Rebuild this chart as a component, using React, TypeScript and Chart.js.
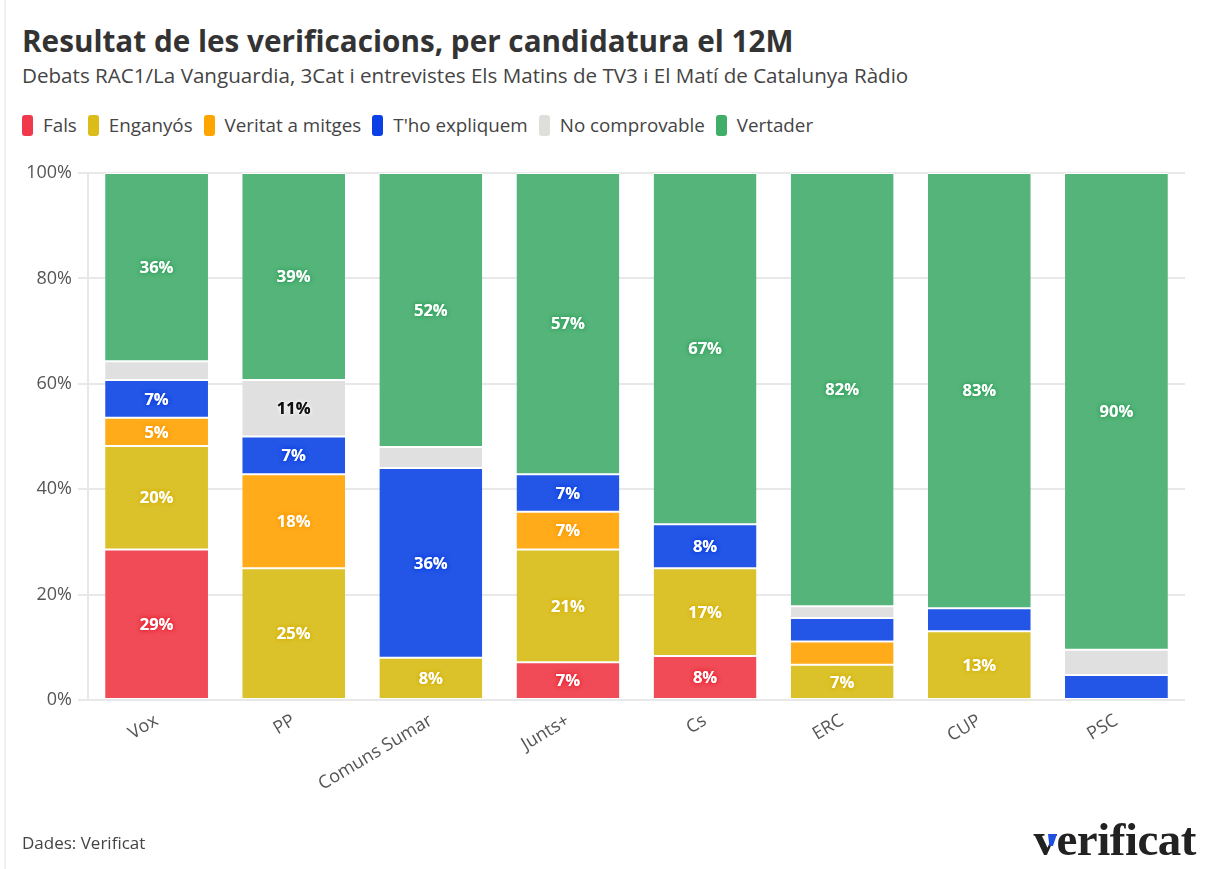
import React, { useEffect, useRef } from "react";
import { Chart, registerables } from "chart.js";

Chart.register(...registerables);

const categories = ["Vox", "PP", "Comuns Sumar", "Junts+", "Cs", "ERC", "CUP", "PSC"];
const seriesNames = ["Fals", "Enganyós", "Veritat a mitges", "T'ho expliquem", "No comprovable", "Vertader"];

const fals = [28.57, null, null, 7.14, 8.33, null, null, null];
const enganyos = [19.64, 25.0, 8.0, 21.43, 16.67, 6.67, 13.04, null];
const veritatAMitges = [5.36, 17.86, null, 7.14, null, 4.44, null, null];
const thoExpliquem = [7.14, 7.14, 36.0, 7.14, 8.33, 4.44, 4.35, 4.76];
const noComprovable = [3.57, 10.71, 4.0, null, null, 2.22, null, 4.76];
const vertader = [35.71, 39.29, 52.0, 57.14, 66.67, 82.22, 82.61, 90.48];

const seriesValues = [fals, enganyos, veritatAMitges, thoExpliquem, noComprovable, vertader];

const barColors = ["#F04B57", "#DBC22B", "#FFAB1A", "#2356E6", "#E0E0E0", "#55B47A"];
const swatchColors = ["#F03A4B", "#DBBD1A", "#FFA500", "#0A40E6", "#DEDEDA", "#40AE68"];
const labelTextColors = ["#fff", "#fff", "#fff", "#fff", "#111", "#fff"];
const labelGlowColors = ["#E8202F", "#D4AF00", "#F59A00", "#0A3CE0", "rgba(255,255,255,0.9)", "#2FA05A"];

const yTicks = [0, 20, 40, 60, 80, 100];
const labelThreshold = 5;

const FONT = "'Open Sans', sans-serif";

const segmentLabels = {
  id: "segmentLabels",
  afterDatasetsDraw(chart: any) {
    const ctx = chart.ctx;
    chart.data.datasets.forEach((ds: any, di: number) => {
      const meta = chart.getDatasetMeta(di);
      meta.data.forEach((el: any, i: number) => {
        const v = ds.data[i];
        if (v == null || v < labelThreshold) return;
        const p = el.getProps(["x", "y", "base"], true);
        const cy = (p.y + p.base) / 2;
        const txt = Math.round(v) + "%";
        ctx.save();
        ctx.font = `bold 16.5px ${FONT}`;
        ctx.textAlign = "center";
        ctx.textBaseline = "middle";
        ctx.fillStyle = labelTextColors[di];
        ctx.shadowColor = labelGlowColors[di];
        ctx.shadowBlur = 4;
        ctx.fillText(txt, p.x, cy + 1);
        ctx.fillText(txt, p.x, cy + 1);
        ctx.restore();
      });
    });
  },
};

export default function App() {
  const canvasRef = useRef<HTMLCanvasElement | null>(null);

  useEffect(() => {
    if (!canvasRef.current) return;
    const chart = new Chart(canvasRef.current, {
      type: "bar",
      data: {
        labels: categories,
        datasets: seriesNames.map((name, i) => ({
          label: name,
          data: seriesValues[i],
          backgroundColor: barColors[i],
          borderColor: "#ffffff",
          borderWidth: { top: 1, bottom: 1, left: 0, right: 0 },
          borderSkipped: false,
          barPercentage: 0.75,
          categoryPercentage: 1,
        })),
      },
      options: {
        animation: false,
        responsive: false,
        devicePixelRatio: 1,
        layout: { padding: { left: 22, right: 24, top: 23, bottom: 69 } },
        plugins: {
          legend: { display: false },
          title: { display: false },
          tooltip: { enabled: false },
        },
        scales: {
          x: {
            stacked: true,
            grid: { display: false, drawTicks: false },
            border: { display: false },
            ticks: {
              minRotation: 31,
              maxRotation: 31,
              padding: 10,
              color: "#555",
              font: { family: FONT, size: 18 },
            },
            afterFit: (scale: any) => {
              scale.height = 100;
            },
          },
          y: {
            stacked: true,
            min: 0,
            max: 100,
            afterBuildTicks: (scale: any) => {
              scale.ticks = yTicks.map((v) => ({ value: v }));
            },
            grid: { color: "#e8e8e8", lineWidth: 2, tickLength: 10, drawTicks: true },
            border: { display: true, color: "#e8e8e8", width: 2 },
            ticks: {
              padding: 6,
              color: "#555",
              font: { family: FONT, size: 18 },
              callback: (v: any) => v + "%",
            },
            afterFit: (scale: any) => {
              scale.width = 66;
            },
          },
        },
      },
      plugins: [segmentLabels],
    });
    return () => chart.destroy();
  }, []);

  return (
    <div
      style={{
        position: "absolute",
        left: 0,
        top: 0,
        width: 1209,
        height: 869,
        background: "#fff",
        overflow: "hidden",
        fontFamily: FONT,
      }}
    >
      <div style={{ position: "absolute", left: 4, top: 0, width: 2, height: 869, background: "#efefef" }} />
      <div
        style={{
          position: "absolute",
          left: 22,
          top: 24,
          fontSize: 29.7,
          lineHeight: "34px",
          fontWeight: 700,
          color: "#333",
          whiteSpace: "nowrap",
        }}
      >
        Resultat de les verificacions, per candidatura el 12M
      </div>
      <div
        style={{
          position: "absolute",
          left: 22,
          top: 63,
          fontSize: 20.6,
          lineHeight: "24px",
          color: "#444",
          whiteSpace: "nowrap",
        }}
      >
        Debats RAC1/La Vanguardia, 3Cat i entrevistes Els Matins de TV3 i El Matí de Catalunya Ràdio
      </div>
      <div
        style={{
          position: "absolute",
          left: 22,
          top: 115,
          display: "flex",
          alignItems: "center",
          whiteSpace: "nowrap",
        }}
      >
        {seriesNames.map((name, i) => (
          <div key={name} style={{ display: "flex", alignItems: "center", marginRight: 11 }}>
            <div
              style={{
                width: 11,
                height: 21,
                borderRadius: 3,
                background: swatchColors[i],
                marginRight: 10,
              }}
            />
            <span style={{ fontSize: 18.8, lineHeight: "21px", color: "#444" }}>{name}</span>
          </div>
        ))}
      </div>
      <canvas
        ref={canvasRef}
        width={1209}
        height={719}
        style={{ position: "absolute", left: 0, top: 150, width: 1209, height: 719 }}
      />
      <div
        style={{
          position: "absolute",
          left: 22,
          top: 832,
          fontSize: 17,
          lineHeight: "22px",
          color: "#444",
          whiteSpace: "nowrap",
        }}
      >
        Dades: Verificat
      </div>
      <div
        style={{
          position: "absolute",
          right: 13,
          top: 814,
          fontFamily: "'Liberation Serif', serif",
          fontWeight: 700,
          fontSize: 47,
          lineHeight: "50px",
          letterSpacing: -0.5,
          color: "#222",
          whiteSpace: "nowrap",
        }}
      >
        verificat
      </div>
      <div
        style={{
          position: "absolute",
          left: 1048,
          top: 834,
          width: 9,
          height: 12,
          background: "#1F4FE0",
          clipPath: "polygon(0 0, 100% 0, 55% 100%, 15% 100%)",
        }}
      />
    </div>
  );
}
